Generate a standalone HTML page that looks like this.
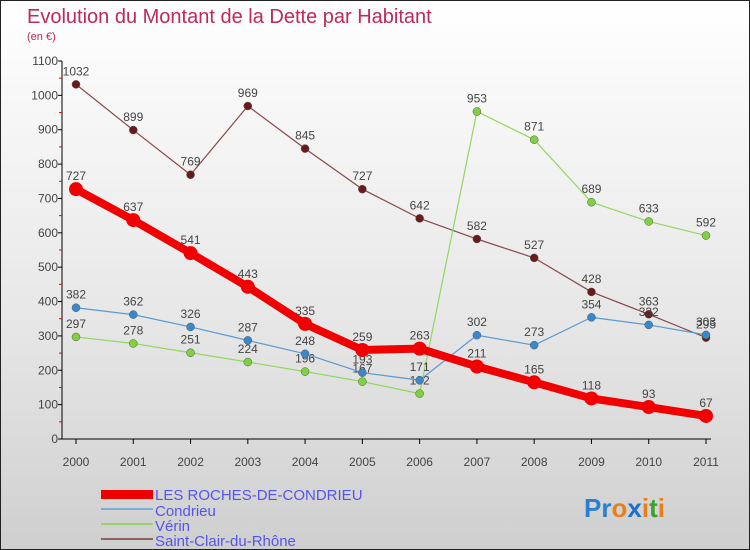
<!DOCTYPE html>
<html><head><meta charset="utf-8"><style>
body{margin:0;width:750px;height:550px;overflow:hidden;font-family:"Liberation Sans",sans-serif}
#wrap{position:relative;width:748px;height:548px;border:1px solid #222;background:linear-gradient(#fff 0%,#e6e6e6 60%,#cfcfcf 100%)}
</style></head><body>
<div id="wrap">
<svg id="svg" width="748" height="548" style="position:absolute;left:0;top:0">
<text x="26" y="22" font-size="20" fill="#c0285a">Evolution du Montant de la Dette par Habitant</text>
<text x="26" y="39" font-size="11" fill="#c0285a">(en €)</text>
<g id="axes"></g><g id="series"></g>
<g font-size="15" fill="#5555ee">
<rect x="100" y="489" width="52" height="9" fill="#e00"/>
<text x="154" y="499">LES ROCHES-DE-CONDRIEU</text>
<rect x="100" y="507" width="52" height="2" fill="#7aaed6"/>
<text x="154" y="515">Condrieu</text>
<rect x="100" y="522" width="52" height="2" fill="#99d070"/>
<text x="154" y="530">Vérin</text>
<rect x="100" y="537" width="52" height="2" fill="#906060"/>
<text x="154" y="545">Saint-Clair-du-Rhône</text>
</g>
<text x="583" y="516" font-size="26" font-weight="bold"><tspan fill="#2a7fd0">Pr</tspan><tspan fill="#e8801a">o</tspan><tspan fill="#1a6fd0">x</tspan><tspan fill="#e8801a">i</tspan><tspan fill="#3aa030">t</tspan><tspan fill="#e8801a">i</tspan></text>
</svg></div>
<script>
const years=[2000,2001,2002,2003,2004,2005,2006,2007,2008,2009,2010,2011];
const yTicks=[0,100,200,300,400,500,600,700,800,900,1000,1100];
const roches=[727,637,541,443,335,259,263,211,165,118,93,67];
const condrieu=[382,362,326,287,248,193,171,302,273,354,332,303];
const verin=[297,278,251,224,196,167,132,953,871,689,633,592];
const saintClair=[1032,899,769,969,845,727,642,582,527,428,363,295];
const NS="http://www.w3.org/2000/svg";
const xs=i=>75+i*(630/11);
const ys=v=>438-v*(378/1100);
function mk(t,a,p){const e=document.createElementNS(NS,t);for(const k in a)e.setAttribute(k,a[k]);p.appendChild(e);return e;}
const ax=document.getElementById('axes');
let l=mk('line',{x1:61,y1:60,x2:61,y2:438,stroke:'#000'},ax);


l=mk('line',{x1:61,y1:438,x2:710,y2:438,stroke:'#000'},ax);


yTicks.forEach((v,i)=>{
 mk('line',{x1:57,y1:ys(v),x2:61,y2:ys(v),stroke:'#000'},ax);
 if(i<yTicks.length-1)mk('line',{x1:58,y1:ys(v+50),x2:61,y2:ys(v+50),stroke:'#e00'},ax);
 const t=mk('text',{x:57,y:ys(v)+4,'text-anchor':'end','font-size':12,fill:'#444'},ax);t.textContent=v;
 
 
});
years.forEach((y,i)=>{
 mk('line',{x1:xs(i),y1:438,x2:xs(i),y2:443,stroke:'#000'},ax);
 const t=mk('text',{x:xs(i),y:465,'text-anchor':'middle','font-size':12,fill:'#444'},ax);t.textContent=y;
 
 
});
const sg=document.getElementById('series');
function series(data,color,dot,w,r,name,skip){
 const g=mk('g',{},sg);
 
 
 mk('polyline',{points:data.map((v,i)=>xs(i)+','+ys(v)).join(' '),fill:'none',stroke:color,'stroke-width':w,'stroke-linejoin':'round'},g);
 data.forEach((v,i)=>{
  const c=mk('circle',{cx:xs(i),cy:ys(v),r:r,fill:dot,stroke:dot==color?'none':'#555','stroke-width':0.5},g);
  
  
  const t=mk('text',{x:xs(i),y:ys(v)-9,'text-anchor':'middle','font-size':12,fill:'#444'},g);t.textContent=v;
  
  
 });
}
series(saintClair,'#8a4848','#6a1a1a',1.2,4,'series-saint-clair');
series(verin,'#90d860','#80d040',1.2,4,'series-verin');
series(condrieu,'#5a9ad0','#3a88cc',1.2,4,'series-condrieu');
series(roches,'#f00000','#f00000',8,7,'series-roches');
</script>
</body></html>
